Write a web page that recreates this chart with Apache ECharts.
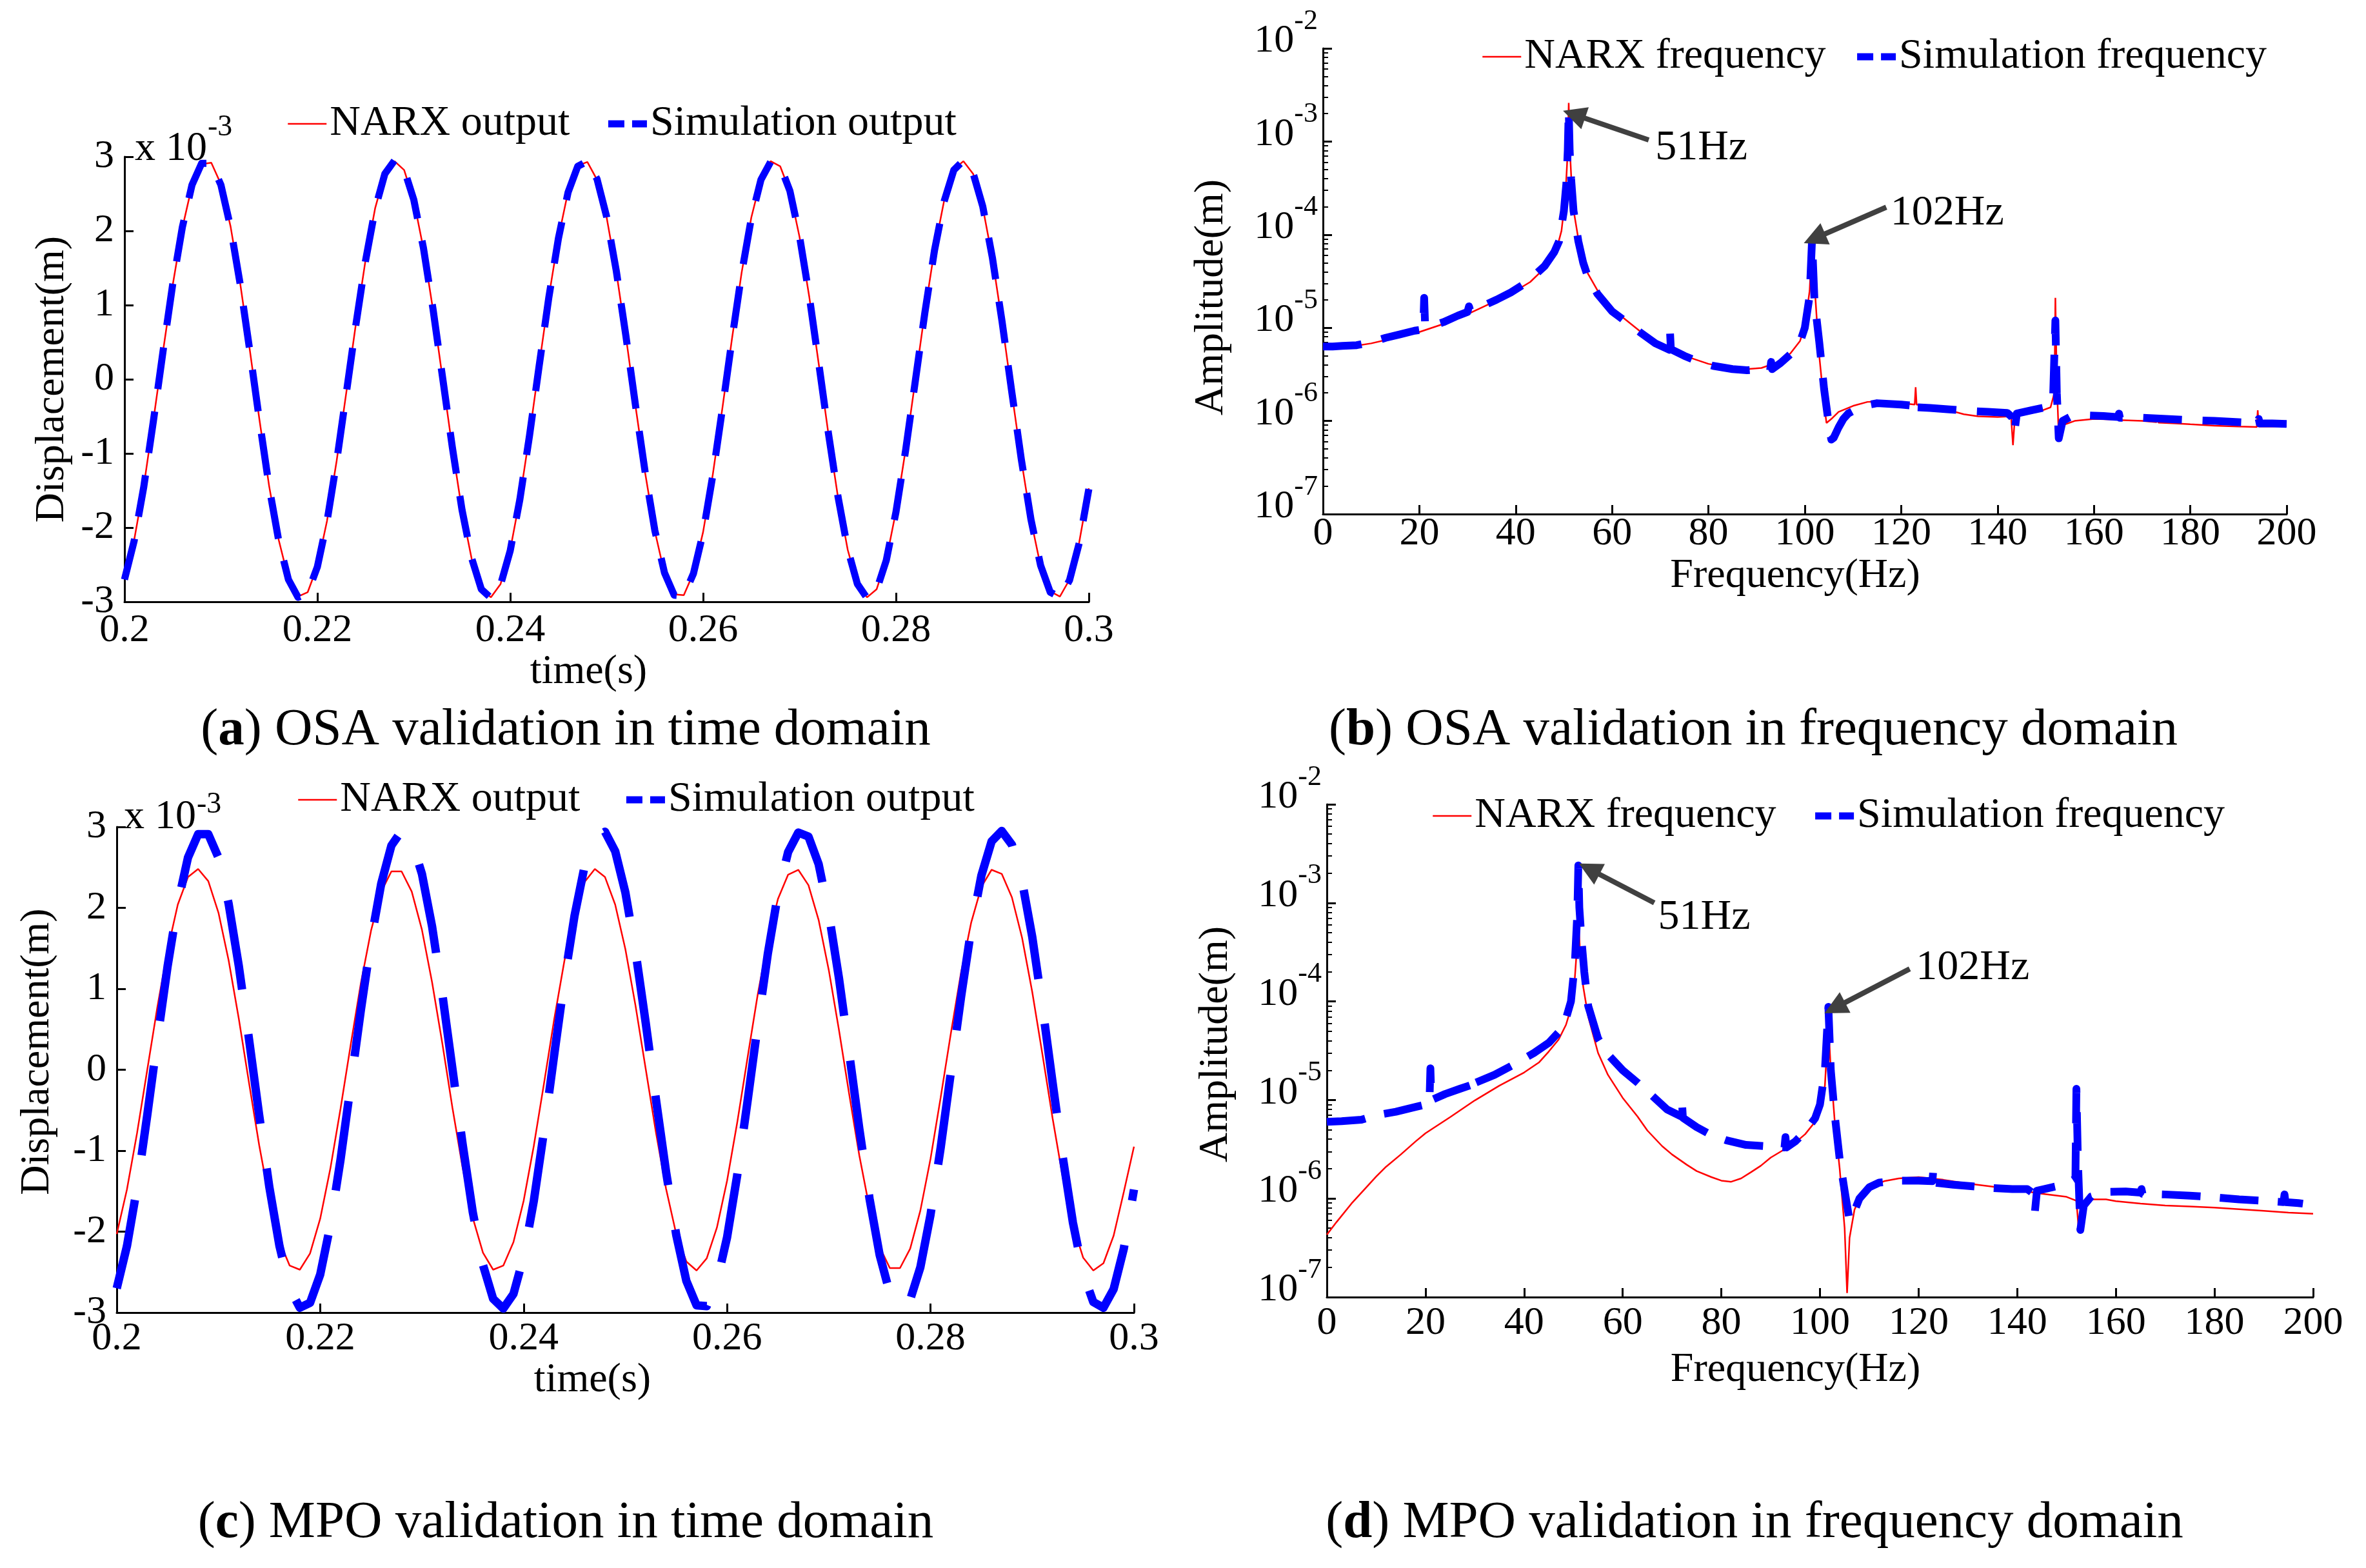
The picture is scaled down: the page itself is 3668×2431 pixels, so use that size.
<!DOCTYPE html>
<html><head><meta charset="utf-8">
<script src="https://cdn.jsdelivr.net/npm/echarts@6/dist/echarts.min.js"></script>
<style>html,body{margin:0;padding:0;background:#fff}#c{width:3668px;height:2431px}</style>
</head><body><div id="c"></div>
<script>
// ---------------- DATA ----------------
const timeS = [0.200,0.201,0.202,0.203,0.204,0.205,0.206,0.207,0.208,0.209,
0.210,0.211,0.212,0.213,0.214,0.215,0.216,0.217,0.218,0.219,
0.220,0.221,0.222,0.223,0.224,0.225,0.226,0.227,0.228,0.229,
0.230,0.231,0.232,0.233,0.234,0.235,0.236,0.237,0.238,0.239,
0.240,0.241,0.242,0.243,0.244,0.245,0.246,0.247,0.248,0.249,
0.250,0.251,0.252,0.253,0.254,0.255,0.256,0.257,0.258,0.259,
0.260,0.261,0.262,0.263,0.264,0.265,0.266,0.267,0.268,0.269,
0.270,0.271,0.272,0.273,0.274,0.275,0.276,0.277,0.278,0.279,
0.280,0.281,0.282,0.283,0.284,0.285,0.286,0.287,0.288,0.289,
0.290,0.291,0.292,0.293,0.294,0.295,0.296,0.297,0.298,0.299,
0.300];

// displacement in units of 1e-3 m
const simOutput = [-2.70,-2.18,-1.45,-0.56,0.38,1.28,2.05,2.62,2.91,2.91,
2.62,2.05,1.28,0.38,-0.56,-1.45,-2.18,-2.70,-2.94,-2.88,
-2.53,-1.92,-1.11,-0.19,0.74,1.60,2.30,2.77,2.95,2.83,
2.42,1.77,0.94,0.01,-0.92,-1.76,-2.41,-2.83,-2.95,-2.77,
-2.31,-1.62,-0.76,0.18,1.10,1.90,2.52,2.87,2.94,2.70,
2.19,1.46,0.58,-0.36,-1.26,-2.04,-2.61,-2.91,-2.92,-2.62,
-2.07,-1.30,-0.40,0.54,1.43,2.17,2.69,2.93,2.88,2.54,
1.93,1.13,0.21,-0.73,-1.59,-2.29,-2.76,-2.95,-2.84,-2.44,
-1.79,-0.96,-0.03,0.90,1.74,2.40,2.82,2.95,2.78,2.33,
1.64,0.78,-0.16,-1.08,-1.89,-2.51,-2.87,-2.94,-2.71,-2.21,
-1.48];

const narxOSA = [-2.68,-2.17,-1.44,-0.55,0.38,1.27,2.04,2.61,2.90,2.92,
2.63,2.06,1.29,0.39,-0.55,-1.44,-2.17,-2.69,-2.93,-2.87,
-2.52,-1.91,-1.10,-0.18,0.75,1.61,2.31,2.78,2.94,2.82,
2.41,1.76,0.93,0.00,-0.93,-1.77,-2.42,-2.84,-2.94,-2.76,
-2.30,-1.61,-0.75,0.19,1.11,1.91,2.53,2.88,2.93,2.69,
2.18,1.45,0.57,-0.37,-1.27,-2.05,-2.62,-2.90,-2.91,-2.61,
-2.06,-1.29,-0.39,0.55,1.44,2.18,2.70,2.94,2.87,2.53,
1.92,1.12,0.20,-0.74,-1.60,-2.30,-2.77,-2.94,-2.83,-2.43,
-1.78,-0.95,-0.02,0.91,1.75,2.41,2.83,2.94,2.77,2.32,
1.63,0.77,-0.17,-1.09,-1.90,-2.52,-2.86,-2.93,-2.70,-2.20,
-1.47];

const narxMPO = [-2.03,-1.48,-0.78,0.00,0.78,1.48,2.04,2.38,2.48,2.33,
1.94,1.35,0.63,-0.16,-0.93,-1.61,-2.12,-2.42,-2.47,-2.27,
-1.84,-1.22,-0.48,0.31,1.07,1.72,2.20,2.45,2.45,2.20,
1.73,1.08,0.33,-0.47,-1.21,-1.83,-2.26,-2.47,-2.42,-2.13,
-1.62,-0.94,-0.17,0.62,1.34,1.93,2.32,2.48,2.38,2.04,
1.49,0.79,0.01,-0.77,-1.47,-2.03,-2.37,-2.48,-2.33,-1.95,
-1.37,-0.65,0.14,0.92,1.59,2.11,2.41,2.47,2.28,1.85,
1.23,0.49,-0.30,-1.06,-1.71,-2.19,-2.45,-2.45,-2.21,-1.74,
-1.10,-0.34,0.45,1.20,1.82,2.26,2.47,2.42,2.13,1.63,
0.96,0.19,-0.60,-1.33,-1.92,-2.32,-2.48,-2.39,-2.05,-1.51,
-0.95];

// spectra: [frequency Hz, amplitude m]
const simFreqOSA = [[0,6.3e-6],[2,6.3e-6],[4,6.4e-6],[7,6.5e-6],[10,7.0e-6],[13,7.8e-6],[16,8.5e-6],[19,9.3e-6],[20.8,9.6e-6],[21.0,2.1e-5],[21.2,1.05e-5],[22,1.02e-5],[25,1.15e-5],[28,1.35e-5],[30,1.48e-5],[30.3,1.7e-5],[30.6,1.5e-5],[33,1.7e-5],[36,2.0e-5],[39,2.4e-5],[42,3.0e-5],[44,3.7e-5],[46,4.6e-5],[48,6.5e-5],[49,8.5e-5],[50,1.8e-4],[50.5,3.5e-4],[50.8,8e-4],[51,2.2e-3],[51.2,8e-4],[51.5,4e-4],[52,1.8e-4],[53,8.5e-5],[54,5e-5],[55,3.5e-5],[57,2.3e-5],[60,1.5e-5],[63,1.15e-5],[66,8.8e-6],[69,6.8e-6],[71.9,5.8e-6],[72,9.5e-6],[72.2,5.9e-6],[75,5.0e-6],[78,4.3e-6],[81,3.9e-6],[85,3.6e-6],[88,3.5e-6],[91,3.6e-6],[92.8,3.5e-6],[93,4.3e-6],[93.2,3.6e-6],[95,4.2e-6],[97,5.2e-6],[99,7.0e-6],[100,1.0e-5],[101,2.2e-5],[101.5,8.8e-5],[102,2.0e-5],[103,7.0e-6],[104,2.2e-6],[105,9e-7],[105.5,6.3e-7],[106,6.6e-7],[107,8.5e-7],[108,1.05e-6],[109,1.2e-6],[112,1.45e-6],[115,1.55e-6],[120,1.5e-6],[122.8,1.45e-6],[123,1.7e-6],[123.2,1.4e-6],[126,1.38e-6],[130,1.33e-6],[134,1.28e-6],[138,1.25e-6],[142,1.22e-6],[143,1.1e-6],[143.5,7.5e-7],[144,1.2e-6],[147,1.3e-6],[150,1.4e-6],[151.5,1.6e-6],[152,1.2e-5],[152.3,2e-6],[152.7,6.5e-7],[153.5,1.0e-6],[155,1.1e-6],[158,1.15e-6],[162,1.13e-6],[165,1.1e-6],[165.2,1.2e-6],[165.4,1.08e-6],[170,1.08e-6],[175,1.05e-6],[180,1.02e-6],[185,1.0e-6],[190,9.7e-7],[194,9.5e-7],[194.2,1.05e-6],[194.4,9.4e-7],[197,9.4e-7],[200,9.3e-7]];

const narxFreqOSA = [[0,6.0e-6],[5,6.2e-6],[10,6.8e-6],[15,7.8e-6],[20,9.0e-6],[25,1.1e-5],[30,1.4e-5],[35,1.85e-5],[40,2.5e-5],[43,3.1e-5],[45,3.9e-5],[47,5.0e-5],[48.5,7e-5],[49.5,1.1e-4],[50.3,2.5e-4],[50.8,8e-4],[51,2.6e-3],[51.2,9e-4],[51.6,3.5e-4],[52.2,1.6e-4],[53,9e-5],[54,5.5e-5],[55,3.8e-5],[57,2.5e-5],[60,1.6e-5],[63,1.2e-5],[66,9e-6],[70,6.5e-6],[75,5.0e-6],[80,4.1e-6],[85,3.7e-6],[88,3.6e-6],[91,3.7e-6],[94,4.2e-6],[97,5.3e-6],[99,7.2e-6],[100,1.05e-5],[101,2.5e-5],[101.5,8.5e-5],[102,3e-5],[102.5,1.2e-5],[103,5e-6],[104,1.5e-6],[104.5,9.5e-7],[105.5,1.05e-6],[107,1.25e-6],[110,1.45e-6],[113,1.6e-6],[116,1.62e-6],[120,1.55e-6],[122.8,1.5e-6],[123,2.3e-6],[123.2,1.5e-6],[126,1.42e-6],[130,1.3e-6],[133,1.18e-6],[136,1.12e-6],[140,1.1e-6],[142.8,1.12e-6],[143.2,5.5e-7],[143.6,1.1e-6],[146,1.2e-6],[149,1.28e-6],[151,1.4e-6],[151.8,2.0e-6],[152,2.1e-5],[152.3,2.5e-6],[152.7,7e-7],[153.5,9e-7],[156,1.0e-6],[160,1.05e-6],[164,1.04e-6],[165,1.15e-6],[165.2,1.02e-6],[170,1.0e-6],[173,9.7e-7],[173.2,1.05e-6],[173.4,9.6e-7],[177,9.4e-7],[180,9.2e-7],[185,8.9e-7],[190,8.7e-7],[193.8,8.6e-7],[194,1.3e-6],[194.2,8.7e-7],[197,8.7e-7],[200,8.8e-7]];

const simFreqMPO = [[0,6.0e-6],[3,6.1e-6],[7,6.3e-6],[10,7.0e-6],[14,7.6e-6],[18,8.5e-6],[20.8,9.2e-6],[21,2.1e-5],[21.2,1.0e-5],[24,1.15e-5],[27,1.3e-5],[29.8,1.45e-5],[30,1.75e-5],[30.2,1.5e-5],[34,1.8e-5],[38,2.3e-5],[42,3.0e-5],[45,3.8e-5],[48,5.5e-5],[49.5,1.0e-4],[50.3,2.5e-4],[50.8,8e-4],[51,2.4e-3],[51.2,9e-4],[51.6,4.5e-4],[52.2,2.0e-4],[53,9e-5],[55,4.2e-5],[57,2.9e-5],[60,2.0e-5],[63,1.5e-5],[66,1.1e-5],[69,8e-6],[71.9,6.8e-6],[72,9.8e-6],[72.2,6.6e-6],[75,5.3e-6],[78,4.4e-6],[81,3.9e-6],[85,3.5e-6],[89,3.4e-6],[92.8,3.3e-6],[93,4.2e-6],[93.2,3.3e-6],[95,3.8e-6],[97,4.8e-6],[99,6.5e-6],[100,9.0e-6],[101,2.0e-5],[101.7,8.8e-5],[102.2,2.0e-5],[103,7e-6],[104,2.5e-6],[105,1.2e-6],[106,6.0e-7],[107,7.5e-7],[108,1.0e-6],[110,1.3e-6],[112,1.45e-6],[116,1.52e-6],[120,1.52e-6],[122.8,1.5e-6],[123,2.0e-6],[123.2,1.45e-6],[127,1.38e-6],[131,1.33e-6],[135,1.28e-6],[139,1.25e-6],[142,1.25e-6],[143,1.15e-6],[143.6,7.5e-7],[144,1.2e-6],[147,1.3e-6],[150,1.4e-6],[151.8,1.6e-6],[152,1.3e-5],[152.3,2.5e-6],[152.8,4.8e-7],[153.5,8.5e-7],[155,1.05e-6],[158,1.17e-6],[162,1.18e-6],[165,1.15e-6],[165.2,1.25e-6],[165.4,1.12e-6],[170,1.1e-6],[175,1.07e-6],[180,1.03e-6],[185,9.8e-7],[190,9.5e-7],[194,9.2e-7],[194.2,1.1e-6],[194.4,9.2e-7],[197,9e-7],[200,8.6e-7]];

const narxFreqMPO = [[0,4.3e-7],[2,5.8e-7],[5,8.9e-7],[8,1.3e-6],[10,1.67e-6],[12,2.1e-6],[15,2.8e-6],[18,3.8e-6],[20,4.6e-6],[25,6.7e-6],[30,9.9e-6],[35,1.4e-5],[40,1.9e-5],[43,2.4e-5],[45,3.1e-5],[47,4.1e-5],[48.5,5.8e-5],[49.5,8.5e-5],[50.2,1.5e-4],[50.8,4e-4],[51,7e-4],[51.3,3.5e-4],[52,1.4e-4],[53,7e-5],[55,3.0e-5],[57,1.8e-5],[60,1.05e-5],[63,6.8e-6],[65,4.9e-6],[68,3.4e-6],[70,2.8e-6],[73,2.2e-6],[75,1.9e-6],[78,1.65e-6],[80,1.52e-6],[82,1.48e-6],[84,1.6e-6],[86,1.85e-6],[88,2.15e-6],[90,2.6e-6],[93,3.2e-6],[95,3.7e-6],[97,4.5e-6],[99,6.0e-6],[100,7.5e-6],[101,1.4e-5],[101.7,6.0e-5],[102.2,2.0e-5],[103,6.0e-6],[104,2.0e-6],[105,5.0e-7],[105.5,1.1e-7],[106,4.0e-7],[107,7.7e-7],[108,1.0e-6],[110,1.3e-6],[113,1.5e-6],[116,1.6e-6],[120,1.65e-6],[125,1.55e-6],[130,1.42e-6],[135,1.32e-6],[140,1.22e-6],[145,1.12e-6],[150,1.04e-6],[152,9.5e-7],[152.5,4.6e-7],[153,8e-7],[155,9.8e-7],[158,9.8e-7],[160,9.4e-7],[165,8.9e-7],[170,8.5e-7],[175,8.3e-7],[180,8.1e-7],[185,7.8e-7],[190,7.5e-7],[195,7.2e-7],[200,7.0e-7]];

// tick labels
const timeTickLabels = ['0.2','0.22','0.24','0.26','0.28','0.3'];
const dispTickLabels = ['-3','-2','-1','0','1','2','3'];
const freqTickLabels = ['0','20','40','60','80','100','120','140','160','180','200'];

// peak annotations: [label, headFreq, headAmp, tailFreq, tailAmp, textFreq, textAmp]
const peakNotesOSA = [['51Hz',52.1,1.95e-3,67.6,1.04e-3,68.9,8.5e-4],['102Hz',102.0,9.1e-5,116.9,1.97e-4,117.7,1.7e-4]];
const peakNotesMPO = [['51Hz',53.2,2.21e-3,66.4,1.0e-3,67.1,7.1e-4],['102Hz',103.0,8.6e-5,118.2,2.14e-4,119.4,2.2e-4]];

// ---------------- CHART ----------------
const FONT = '"Liberation Serif","Times New Roman",serif';
const BLACK = '#000';
const RED = '#ff0000';
const BLUE = '#0000ff';
const ARROW = '#404040';

const minorLogTicks = [];
for (let e = -7; e < -2; e++) for (let m = 2; m <= 9; m++) minorLogTicks.push(m * Math.pow(10, e));

function axisBase(gi) {
  return {
    gridIndex: gi,
    axisLine: {show: true, onZero: false, lineStyle: {color: BLACK, width: 3}},
    axisTick: {show: true, inside: true, length: 14, lineStyle: {color: BLACK, width: 3}},
    splitLine: {show: false}
  };
}
function timeX(gi, nameGap, shift, margin) {
  return Object.assign(axisBase(gi), {
    type: 'value', position: 'bottom', min: 0.2, max: 0.3, interval: 0.02,
    name: 'time(s)', nameLocation: 'middle', nameGap: nameGap,
    nameTextStyle: {fontSize: 64, fontFamily: FONT, color: BLACK, padding: [0, shift * 2, 0, 0]},
    axisLabel: {margin: margin, fontSize: 62, fontFamily: FONT, color: BLACK, showMinLabel: true, showMaxLabel: true,
      formatter: v => timeTickLabels[Math.round((v - 0.2) / 0.02)]}
  });
}
function dispY(gi, nameGap, pad) {
  return Object.assign(axisBase(gi), {
    type: 'value', position: 'left', min: -3, max: 3, interval: 1,
    name: 'Displacement(m)', nameLocation: 'middle', nameGap: nameGap, nameRotate: 90,
    nameTextStyle: {fontSize: 64, fontFamily: FONT, color: BLACK, padding: pad},
    axisLabel: {margin: 16, fontSize: 62, fontFamily: FONT, color: BLACK,
      formatter: v => dispTickLabels[Math.round(v + 3)]}
  });
}
function freqX(gi, nameGap, shift, margin) {
  return Object.assign(axisBase(gi), {
    type: 'value', position: 'bottom', min: 0, max: 200, interval: 20,
    name: 'Frequency(Hz)', nameLocation: 'middle', nameGap: nameGap,
    nameTextStyle: {fontSize: 64, fontFamily: FONT, color: BLACK, padding: [0, shift * 2, 0, 0]},
    axisLabel: {margin: margin, fontSize: 62, fontFamily: FONT, color: BLACK, showMinLabel: true, showMaxLabel: true,
      formatter: v => freqTickLabels[Math.round(v / 20)]}
  });
}
function ampY(gi, nameGap, pad) {
  return Object.assign(axisBase(gi), {
    type: 'log', logBase: 10, position: 'left', min: 1e-7, max: 1e-2,
    name: 'Amplitude(m)', nameLocation: 'middle', nameGap: nameGap, nameRotate: 90,
    nameTextStyle: {fontSize: 64, fontFamily: FONT, color: BLACK, padding: pad},
    axisLabel: {margin: 8, color: BLACK, fontFamily: FONT, fontSize: 62, padding: [0, 0, 22, 0],
      formatter: v => '{b|10}{s|' + Math.round(Math.log10(v)) + '}',
      rich: {
        b: {fontSize: 62, fontFamily: FONT, color: BLACK, lineHeight: 62, verticalAlign: 'bottom'},
        s: {fontSize: 44, fontFamily: FONT, color: BLACK, lineHeight: 44, verticalAlign: 'bottom', padding: [0, 0, 40, 0]}
      }}
  });
}
function ampMinorY(gi) {
  return {
    type: 'log', logBase: 10, gridIndex: gi, position: 'left', min: 1e-7, max: 1e-2,
    axisLine: {show: false}, axisLabel: {show: false}, splitLine: {show: false},
    axisTick: {show: true, inside: true, length: 8, customValues: minorLogTicks, lineStyle: {color: BLACK, width: 2}}
  };
}

function narxLine(name, xi, yi, data) {
  return {type: 'line', name: name, xAxisIndex: xi, yAxisIndex: yi, data: data, symbol: 'none', showSymbol: false,
    lineStyle: {color: RED, width: 2.5}, itemStyle: {color: RED}, silent: true, animation: false, z: 2};
}
function simLine(name, xi, yi, data, dash, width) {
  return {type: 'line', name: name, xAxisIndex: xi, yAxisIndex: yi, data: data, symbol: 'none', showSymbol: false,
    lineStyle: {color: BLUE, width: width, type: dash, cap: 'butt', join: 'round'}, itemStyle: {color: BLUE}, silent: true, animation: false, z: 3};
}
function addNotes(series, notes) {
  series.markLine = {
    silent: true, animation: false, symbol: ['none', 'triangle'], symbolSize: 36,
    itemStyle: {color: ARROW},
    lineStyle: {color: ARROW, width: 8, type: 'solid'}, label: {show: false},
    emphasis: {disabled: true},
    data: notes.map(n => [{coord: [n[3], n[4]]}, {coord: [n[1], n[2]]}])
  };
  series.markPoint = {
    silent: true, animation: false, symbol: 'rect', symbolSize: 1, itemStyle: {color: 'rgba(0,0,0,0)'},
    label: {show: true, position: 'right', distance: 0, fontSize: 66, fontFamily: FONT, color: BLACK, formatter: p => p.name},
    data: notes.map(n => ({name: n[0], coord: [n[5], n[6]]}))
  };
  return series;
}

const pairT = arr => timeS.map((t, i) => [t, arr[i]]);

const legendText = {fontSize: 66, fontFamily: FONT, color: BLACK, lineHeight: 70};
const noDot = {color: 'rgba(0,0,0,0)', borderWidth: 0, borderColor: 'rgba(0,0,0,0)'};
function legendAt(left, top, gap, names) {
  return {left: left, top: top, orient: 'horizontal', itemWidth: 60, itemHeight: 20, itemGap: gap, selectedMode: false,
    textStyle: legendText, padding: 0, itemStyle: noDot,
    data: [
      {name: names[0], itemStyle: noDot, lineStyle: {color: RED, width: 2.5, type: 'solid'}},
      {name: names[1], itemStyle: noDot, lineStyle: {color: BLUE, width: 11, type: [25, 12], cap: 'butt'}}
    ]};
}

const chart = echarts.init(document.getElementById('c'), null, {renderer: 'canvas', devicePixelRatio: 1});
chart.setOption({
  animation: false,
  backgroundColor: '#fff',
  textStyle: {fontFamily: FONT},
  grid: [
    {left: 193, top: 243, width: 1495, height: 690, outerBoundsMode: 'none', containLabel: false},
    {left: 2051, top: 75, width: 1494, height: 722, outerBoundsMode: 'none', containLabel: false},
    {left: 181, top: 1282, width: 1577, height: 753, outerBoundsMode: 'none', containLabel: false},
    {left: 2057, top: 1247, width: 1529, height: 764, outerBoundsMode: 'none', containLabel: false}
  ],
  xAxis: [timeX(0, 64, 28, 14), freqX(1, 64, 15, 0), timeX(2, 66, 51, 10), freqX(3, 81, 38, 10)],
  yAxis: [dispY(0, 80, [0, 0, 0, 0]), ampY(1, 141, [0, 50, 0, 0]), ampMinorY(1), dispY(2, 91, [0, 0, 0, 56]), ampY(3, 140, [0, 0, 0, 20]), ampMinorY(3)],
  legend: [
    legendAt(445, 157, 54, ['NARX output', 'Simulation output']),
    legendAt(2297, 53, 43, ['NARX frequency', 'Simulation frequency']),
    legendAt(461, 1205, 66, ['NARX output', 'Simulation output']),
    legendAt(2220, 1230, 55, ['NARX frequency', 'Simulation frequency'])
  ],
  series: [
    narxLine('NARX output', 0, 0, pairT(narxOSA)),
    simLine('Simulation output', 0, 0, pairT(simOutput), [65, 35], 11),
    addNotes(narxLine('NARX frequency', 1, 1, narxFreqOSA), peakNotesOSA),
    simLine('Simulation frequency', 1, 1, simFreqOSA, [60, 32], 12),
    narxLine('NARX output', 2, 3, pairT(narxMPO)),
    simLine('Simulation output', 2, 3, pairT(simOutput), [140, 70], 13),
    addNotes(narxLine('NARX frequency', 3, 4, narxFreqMPO), peakNotesMPO),
    simLine('Simulation frequency', 3, 4, simFreqMPO, [60, 30], 12)
  ],
  graphic: [
    {type: 'text', x: 209, y: 231, style: {text: 'x 10', fontSize: 64, fontFamily: FONT, fill: BLACK, align: 'left', verticalAlign: 'middle'}},
    {type: 'text', x: 322, y: 198, style: {text: '-3', fontSize: 46, fontFamily: FONT, fill: BLACK, align: 'left', verticalAlign: 'middle'}},
    {type: 'text', x: 192, y: 1267, style: {text: 'x 10', fontSize: 64, fontFamily: FONT, fill: BLACK, align: 'left', verticalAlign: 'middle'}},
    {type: 'text', x: 305, y: 1248, style: {text: '-3', fontSize: 46, fontFamily: FONT, fill: BLACK, align: 'left', verticalAlign: 'middle'}},
    {type: 'text', x: 877, y: 1133, style: {text: '({b|a}) OSA validation in time domain', fontSize: 81, fontFamily: FONT, fill: BLACK, align: 'center', verticalAlign: 'middle', rich: {b: {fontSize: 81, fontFamily: FONT, fontWeight: 'bold', fill: BLACK}}}},
    {type: 'text', x: 2718, y: 1133, style: {text: '({b|b}) OSA validation in frequency domain', fontSize: 81, fontFamily: FONT, fill: BLACK, align: 'center', verticalAlign: 'middle', rich: {b: {fontSize: 81, fontFamily: FONT, fontWeight: 'bold', fill: BLACK}}}},
    {type: 'text', x: 877, y: 2362, style: {text: '({b|c}) MPO validation in time domain', fontSize: 81, fontFamily: FONT, fill: BLACK, align: 'center', verticalAlign: 'middle', rich: {b: {fontSize: 81, fontFamily: FONT, fontWeight: 'bold', fill: BLACK}}}},
    {type: 'text', x: 2720, y: 2362, style: {text: '({b|d}) MPO validation in frequency domain', fontSize: 81, fontFamily: FONT, fill: BLACK, align: 'center', verticalAlign: 'middle', rich: {b: {fontSize: 81, fontFamily: FONT, fontWeight: 'bold', fill: BLACK}}}}
  ]
});
</script></body></html>
